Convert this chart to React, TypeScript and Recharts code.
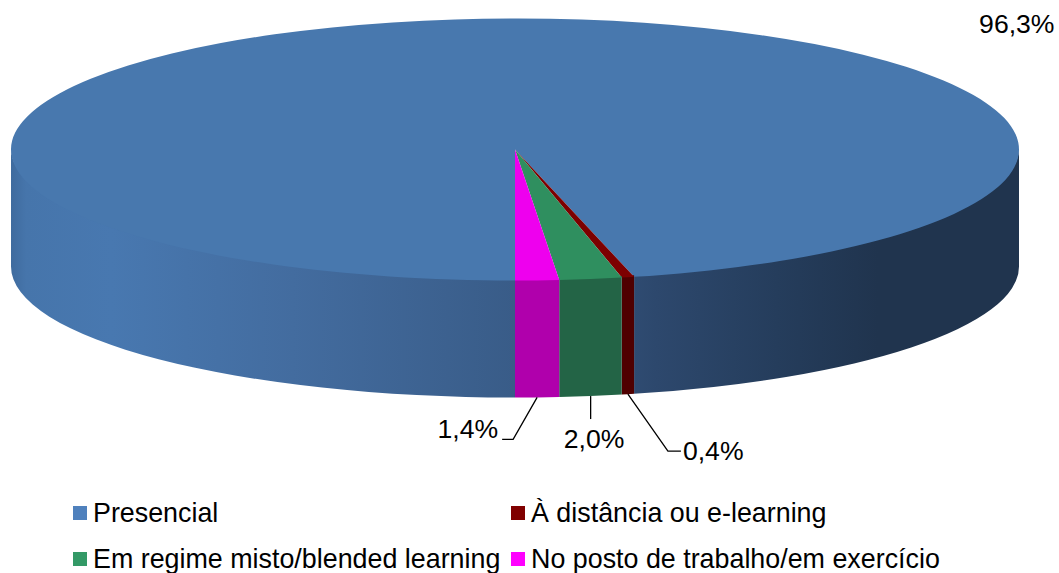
import React from "react";
import { PieChart, Pie, Legend } from "recharts";

const categories = ["Presencial", "À distância ou e-learning", "Em regime misto/blended learning", "No posto de trabalho/em exercício"];
const shares = [96.3, 0.4, 2.0, 1.4];
const legendColors = ["#4F81BD", "#800000", "#339966", "#FF00FF"];
const topColors = ["#4878AE", "#7D0000", "#2F8F5F", "#EE00EE"];
const wallColors = ["url(#wallBlue)", "#4F0000", "#236446", "#B000AC"];

const rows = categories.map((name, i) => ({ name, value: shares[i], fill: legendColors[i], top: topColors[i], wall: wallColors[i] }));

const W = 1059;
const H = 573;
const FONT = "'Liberation Sans', Arial, sans-serif";
const FLAT = 0.26;
const DEPTH = 117;
const RAD = Math.PI / 180;

const pt = (cx: number, cy: number, r: number, a: number, dy = 0) => ({
  x: cx + r * Math.cos(a * RAD),
  y: cy - r * FLAT * Math.sin(a * RAD) + dy,
});

function SliceShape(props: any) {
  const { cx, cy, outerRadius: r, startAngle, endAngle, payload } = props;
  const top = payload?.top ?? props.top;
  const wall = payload?.wall ?? props.wall;
  const hi = Math.max(startAngle, endAngle);
  const lo = Math.min(startAngle, endAngle);
  const ry = r * FLAT;
  const s = pt(cx, cy, r, hi);
  const e = pt(cx, cy, r, lo);
  const large = hi - lo > 180 ? 1 : 0;
  const topPath = `M${cx},${cy}L${s.x},${s.y}A${r},${ry} 0 ${large} 1 ${e.x},${e.y}Z`;
  const walls: string[] = [];
  [[-180, 0], [180, 360]].forEach(([bLo, bHi]) => {
    const h = Math.min(hi, bHi);
    const l = Math.max(lo, bLo);
    if (h > l) {
      const a = pt(cx, cy, r, h);
      const b = pt(cx, cy, r, l);
      walls.push(`M${a.x},${a.y - 1.5}A${r},${ry} 0 0 1 ${b.x},${b.y - 1.5}L${b.x},${b.y + DEPTH}A${r},${ry} 0 0 0 ${a.x},${a.y + DEPTH}Z`);
    }
  });
  return (
    <g>
      <defs>
        <linearGradient id="wallBlue" gradientUnits="userSpaceOnUse" x1={cx - r} x2={cx + r} y1="0" y2="0">
          <stop offset="0" stopColor="#3F6B9E" />
          <stop offset="0.015" stopColor="#4675AB" />
          <stop offset="0.1" stopColor="#4878B0" />
          <stop offset="0.28" stopColor="#436C9F" />
          <stop offset="0.5" stopColor="#395C88" />
          <stop offset="0.64" stopColor="#2D486D" />
          <stop offset="0.76" stopColor="#253D5C" />
          <stop offset="0.86" stopColor="#20344E" />
          <stop offset="1" stopColor="#20344E" />
        </linearGradient>
      </defs>
      {walls.map((d, i) => <path key={i} d={d} fill={wall} />)}
      <path d={topPath} fill={top} />
    </g>
  );
}

function SliceLabel(props: any) {
  const { cx, cy, outerRadius: r, midAngle, value, index } = props;
  const text = `${value.toFixed(1).replace(".", ",")}%`;
  const common = { fontFamily: FONT, fontSize: 26.6, fill: "#000" };
  const foot = pt(cx, cy, r, midAngle, DEPTH);
  if (index === 0) {
    return <text {...common} x={cx + 539.5} y={cy - 117} textAnchor="end">{text}</text>;
  }
  const leader: Record<number, [number, number][]> = {
    1: [[40, 57], [53, 57]],
    2: [[0, 23]],
    3: [[-24, 42], [-35, 42]],
  };
  const textAt: Record<number, [number, number, "start" | "middle" | "end"]> = {
    1: [55, 66, "start"],
    2: [3.5, 52, "middle"],
    3: [-39, 41, "end"],
  };
  const pts = [[foot.x, foot.y], ...leader[index].map(([dx, dy]) => [foot.x + dx, foot.y + dy])];
  const [tx, ty, anchor] = textAt[index];
  return (
    <g>
      <polyline points={pts.map((p) => p.join(",")).join(" ")} fill="none" stroke="#000" strokeWidth={1.3} />
      <text {...common} x={foot.x + tx} y={foot.y + ty} textAnchor={anchor}>{text}</text>
    </g>
  );
}

function LegendBox({ payload }: any) {
  const items = payload ?? [];
  return (
    <div style={{ position: "relative", width: W, height: H, pointerEvents: "none" }}>
      {items.map((it: any, i: number) => {
        const left = i % 2 === 0 ? 73 : 511;
        const top = i < 2 ? 498 : 544;
        return (
          <div key={i} style={{ position: "absolute", left, top, display: "flex", alignItems: "center", height: 30, whiteSpace: "nowrap" }}>
            <span style={{ display: "inline-block", width: 14, height: 14, background: it.color, marginRight: 6 }} />
            <span style={{ fontFamily: FONT, fontSize: 26.85, color: "#000", lineHeight: "30px" }}>{it.value}</span>
          </div>
        );
      })}
    </div>
  );
}

export default function App() {
  return (
    <div style={{ position: "absolute", left: 0, top: 0, width: W, height: H, background: "#fff" }}>
      <PieChart width={W} height={H} margin={{ top: 0, right: 0, bottom: 0, left: 0 }}>
        <Pie
          data={rows}
          dataKey="value"
          nameKey="name"
          cx={515}
          cy={149.5}
          innerRadius={0}
          outerRadius={504}
          startAngle={270}
          endAngle={-90}
          stroke="none"
          shape={SliceShape}
          label={SliceLabel}
          labelLine={false}
          isAnimationActive={false}
        />
        <Legend itemSorter={null} content={<LegendBox />} wrapperStyle={{ left: 0, top: 0, width: W, height: H, margin: 0, padding: 0 }} />
      </PieChart>
    </div>
  );
}
